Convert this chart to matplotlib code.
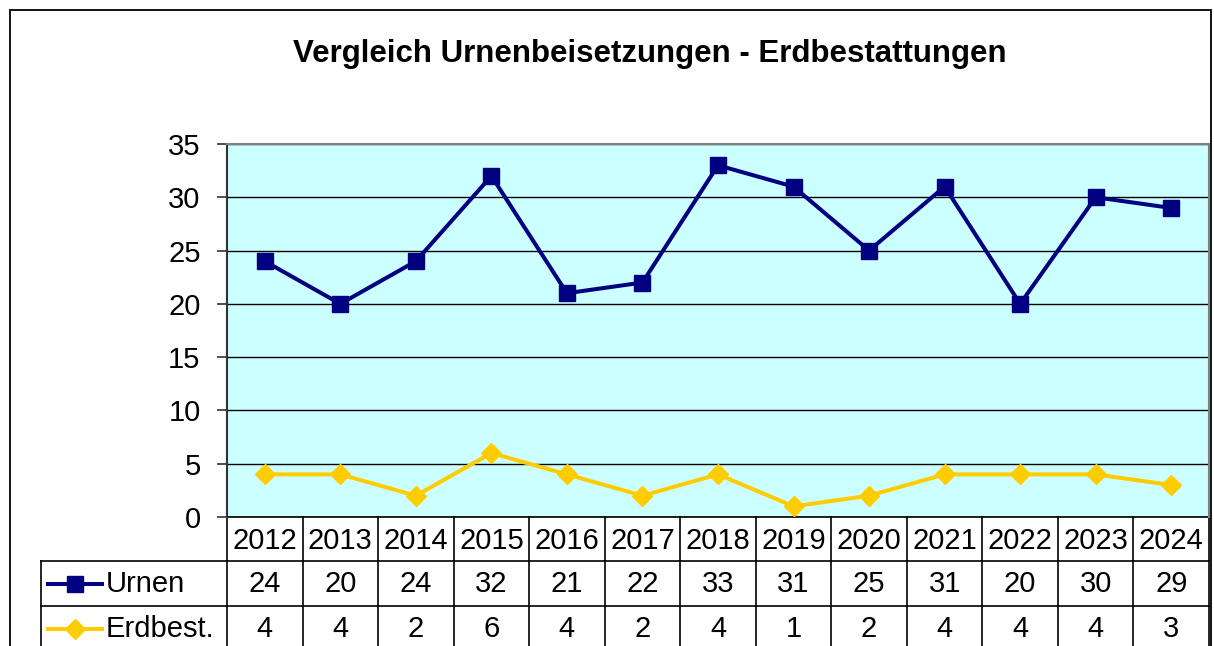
import numpy as np
import matplotlib
matplotlib.use("Agg")
import matplotlib.pyplot as plt
from matplotlib.lines import Line2D
from matplotlib.patches import Rectangle
import matplotlib.transforms as mtransforms

years = ["2012", "2013", "2014", "2015", "2016", "2017", "2018",
         "2019", "2020", "2021", "2022", "2023", "2024"]
urnen = [24, 20, 24, 32, 21, 22, 33, 31, 25, 31, 20, 30, 29]
erdbest = [4, 4, 2, 6, 4, 2, 4, 1, 2, 4, 4, 4, 3]
series_names = ["Urnen", "Erdbest."]
title = "Vergleich Urnenbeisetzungen - Erdbestattungen"

NAVY = "#000080"
GOLD = "#FFCC00"
BG = "#CCFFFF"

plt.rcParams["font.family"] = ["Liberation Sans", "DejaVu Sans"]

W, H = 1214, 646
fig = plt.figure(figsize=(W / 100, H / 100), dpi=100)

# plot area in pixel coords of the reference
L, R, T, B = 227, 1209, 144, 517
ax = fig.add_axes([L / W, 1 - B / H, (R - L) / W, (B - T) / H])
ax.set_facecolor(BG)

SQ_MS, DI_MS = 12, 10
x = np.arange(len(years))
ax.plot(x, urnen, color=NAVY, lw=2.9, marker="s", ms=SQ_MS, zorder=3, clip_on=False)
ax.plot(x, erdbest, color=GOLD, lw=2.9, marker="D", ms=DI_MS, zorder=3, clip_on=False)

ax.set_xlim(-0.5, len(years) - 0.5)
ax.set_ylim(0, 35)
ax.set_yticks(range(0, 36, 5))
ax.set_xticks([])
ax.yaxis.grid(True, color="black", lw=1.0)
ax.set_axisbelow(True)
ax.tick_params(axis="y", labelsize=21, length=7, width=1.2, color="#333333", pad=12)
for s in ["top", "right"]:
    ax.spines[s].set_color("#808080")
    ax.spines[s].set_linewidth(1.5)
ax.spines["left"].set_color("#333333")
ax.spines["left"].set_linewidth(1.5)
ax.spines["bottom"].set_visible(False)

# ---- data table below the plot ----
ph = B - T  # axes height in pixels
def ay(py):
    return (B - py) / ph

def axx(px):
    return (px - L) / (R - L)

blend = mtransforms.blended_transform_factory(ax.transData, ax.transAxes)
row_edges = [517, 561, 606, 660]
lw_tab = 1.2
# horizontal lines
ax.add_line(Line2D([0, 1], [ay(517)] * 2, transform=ax.transAxes, color="black", lw=lw_tab, clip_on=False))
for py in row_edges[1:3]:
    ax.add_line(Line2D([axx(41), 1], [ay(py)] * 2, transform=ax.transAxes, color="black", lw=lw_tab, clip_on=False))
# vertical lines
for i in range(len(years) + 1):
    ax.add_line(Line2D([i - 0.5] * 2, [ay(517), ay(660)], transform=blend,
                       color="black", lw=lw_tab, clip_on=False))
ax.add_line(Line2D([axx(41)] * 2, [ay(561), ay(660)], transform=ax.transAxes,
                   color="black", lw=lw_tab, clip_on=False))

fs = 21
for i, yr in enumerate(years):
    ax.text(i, ay(541), yr, transform=blend, ha="center", va="center", fontsize=fs, clip_on=False)
    ax.text(i, ay(584), str(urnen[i]), transform=blend, ha="center", va="center", fontsize=fs, clip_on=False)
    ax.text(i, ay(629), str(erdbest[i]), transform=blend, ha="center", va="center", fontsize=fs, clip_on=False)

# legend keys in the table
for row_y, name, col, mk, ms in [(584, series_names[0], NAVY, "s", SQ_MS),
                                 (629, series_names[1], GOLD, "D", DI_MS)]:
    ax.add_line(Line2D([axx(48), axx(102)], [ay(row_y)] * 2, transform=ax.transAxes,
                       color=col, lw=2.9, clip_on=False))
    ax.add_line(Line2D([axx(75)], [ay(row_y)], transform=ax.transAxes, color=col,
                       marker=mk, ms=ms, lw=0, clip_on=False))
    ax.text(axx(106), ay(row_y), name, transform=ax.transAxes, ha="left", va="center",
            fontsize=fs, clip_on=False)

# title
fig.text(650 / W, 1 - 54 / H, title, ha="center", va="center", fontsize=22.5, fontweight="bold")

# outer chart border
fig.patches.append(Rectangle((10 / W, -0.05), (1201) / W, 1 - 10.5 / H + 0.05,
                             transform=fig.transFigure, fill=False, edgecolor="black", lw=1.3))

fig.savefig("out.png", dpi=100)
